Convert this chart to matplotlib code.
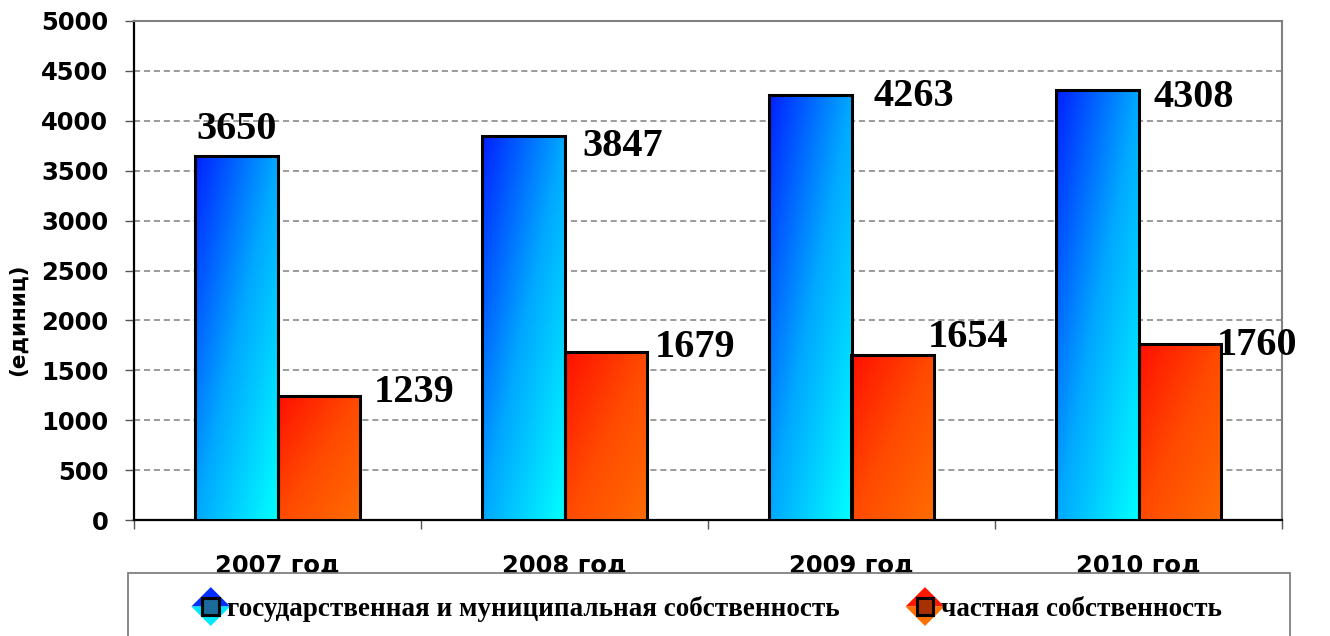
import numpy as np
import matplotlib
matplotlib.use("Agg")
import matplotlib.pyplot as plt
from matplotlib.patches import Polygon, Rectangle
from matplotlib.legend_handler import HandlerBase
from matplotlib.colors import LinearSegmentedColormap

# ---- data ----
categories = ["2007 год", "2008 год", "2009 год", "2010 год"]
series_names = ["государственная и муниципальная собственность", "частная собственность"]
state_values = [3650, 3847, 4263, 4308]
private_values = [1239, 1679, 1654, 1760]
yticks = [0, 500, 1000, 1500, 2000, 2500, 3000, 3500, 4000, 4500, 5000]
ylabel = "(единиц)"

# label offsets (pixels) relative to bar top-center
state_label_off = [(0, 26), (99, -10), (103, -2), (96, -7)]
private_label_off = [(96, 4), (90, 5), (76, 17), (77, -1)]

blue_cmap = LinearSegmentedColormap.from_list("b", ["#0020ff", "#00a8ff", "#00ffff"])
red_cmap = LinearSegmentedColormap.from_list("r", ["#ff1000", "#ff4a00", "#ff6c00"])

fig = plt.figure(figsize=(13.3, 6.36), dpi=100)
ax = fig.add_axes([134/1330, 1-520/636, (1282-134)/1330, (520-21)/636])

x = np.arange(len(categories))
w = 0.286
bars_s = ax.bar(x - w/2, state_values, w, facecolor="none", edgecolor="black", lw=2.2, zorder=4)
bars_p = ax.bar(x + w/2, private_values, w, facecolor="none", edgecolor="black", lw=2.2, zorder=4)

N = 200
u = np.linspace(0, 1, N)
U, V = np.meshgrid(u, u)
T = (U + V) / 2

def fill_gradient(bars, cmap):
    for b in bars:
        bx, by = b.get_x(), b.get_y()
        bw, bh = b.get_width(), b.get_height()
        im = ax.imshow(T, cmap=cmap, vmin=0, vmax=1, extent=[bx, bx+bw, by, by+bh],
                       origin="upper", aspect="auto", zorder=3, interpolation="bilinear")
        clip = Rectangle((bx, by), bw, bh, transform=ax.transData)
        im.set_clip_path(clip)

fill_gradient(bars_s, blue_cmap)
fill_gradient(bars_p, red_cmap)

ax.set_xlim(-0.5, len(categories) - 0.5)
ax.set_ylim(0, 5000)
ax.set_yticks(yticks)
ax.set_yticklabels([str(v) for v in yticks])

for b, v, off in zip(bars_s, state_values, state_label_off):
    ax.annotate(str(v), (b.get_x() + b.get_width()/2, v), xytext=off,
                textcoords="offset pixels", ha="center", va="center",
                fontsize=29, fontweight="bold", family="Liberation Serif", zorder=6)
for b, v, off in zip(bars_p, private_values, private_label_off):
    ax.annotate(str(v), (b.get_x() + b.get_width()/2, v), xytext=off,
                textcoords="offset pixels", ha="center", va="center",
                fontsize=29, fontweight="bold", family="Liberation Serif", zorder=6)

# grid
ax.yaxis.grid(True, color="#808080", ls=(0, (4, 2.5)), lw=1.1, zorder=1)
ax.set_axisbelow(True)

# spines
ax.spines["left"].set_color("black")
ax.spines["left"].set_linewidth(1.6)
ax.spines["bottom"].set_color("black")
ax.spines["bottom"].set_linewidth(1.6)
ax.spines["top"].set_color("#808080")
ax.spines["top"].set_linewidth(1.5)
ax.spines["right"].set_color("#808080")
ax.spines["right"].set_linewidth(1.5)

ax.tick_params(axis="y", direction="out", length=6.5, width=1, color="#555555", pad=12,
               labelsize=17.5)
for lab in ax.get_yticklabels():
    lab.set_fontweight("heavy")
    lab.set_family("DejaVu Sans")

ax.set_xticks(x)
ax.set_xticklabels(categories, fontsize=17.5, fontweight="heavy", family="DejaVu Sans")
ax.set_xticks(np.arange(-0.5, len(categories)), minor=True)
ax.tick_params(axis="x", which="major", length=0, pad=24)
ax.tick_params(axis="x", which="minor", length=6.5, width=1, color="#555555", direction="out")

fig.text(18/1330, 1-320/636, ylabel, rotation=90, ha="center", va="center",
         fontsize=15.5, fontweight="bold", family="DejaVu Sans")

# legend box
frame = Rectangle((128/1330, -0.05), (1290-128)/1330, 0.05 + (636-573)/636,
                  transform=fig.transFigure, facecolor="white", edgecolor="#808080",
                  lw=1.3, zorder=5)
fig.add_artist(frame)


class DiamondHandler(HandlerBase):
    def __init__(self, top, bottom, inner):
        super().__init__()
        self.top, self.bottom, self.inner = top, bottom, inner

    def create_artists(self, legend, orig_handle, xdescent, ydescent, width, height,
                       fontsize, trans):
        cx = width/2 - xdescent
        cy = height/2 - ydescent
        r = 14
        up = Polygon([(cx - r, cy), (cx, cy + r), (cx + r, cy)], closed=True,
                     facecolor=self.top, edgecolor="none", transform=trans)
        lo = Polygon([(cx - r, cy), (cx + r, cy), (cx, cy - r)], closed=True,
                     facecolor=self.bottom, edgecolor="none", transform=trans)
        s = 6
        sq = Rectangle((cx - s, cy - s), 2*s, 2*s, facecolor=self.inner,
                       edgecolor="black", lw=2.2, transform=trans)
        return [up, lo, sq]


h1 = Rectangle((0, 0), 1, 1)
h2 = Rectangle((0, 0), 1, 1)
leg = fig.legend([h1, h2], series_names, loc="center",
                 bbox_to_anchor=(709/1330, 1-609/636), ncol=2, frameon=False,
                 prop={"family": "Liberation Serif", "weight": "bold", "size": 19.5},
                 handler_map={h1: DiamondHandler("#0030ff", "#00e8ff", "#1a6a9a"),
                              h2: DiamondHandler("#ff1800", "#ff7000", "#a83000")},
                 handlelength=1.1, handletextpad=0.05, columnspacing=2.6)
leg.set_zorder(6)

fig.savefig("out.png", dpi=100)
